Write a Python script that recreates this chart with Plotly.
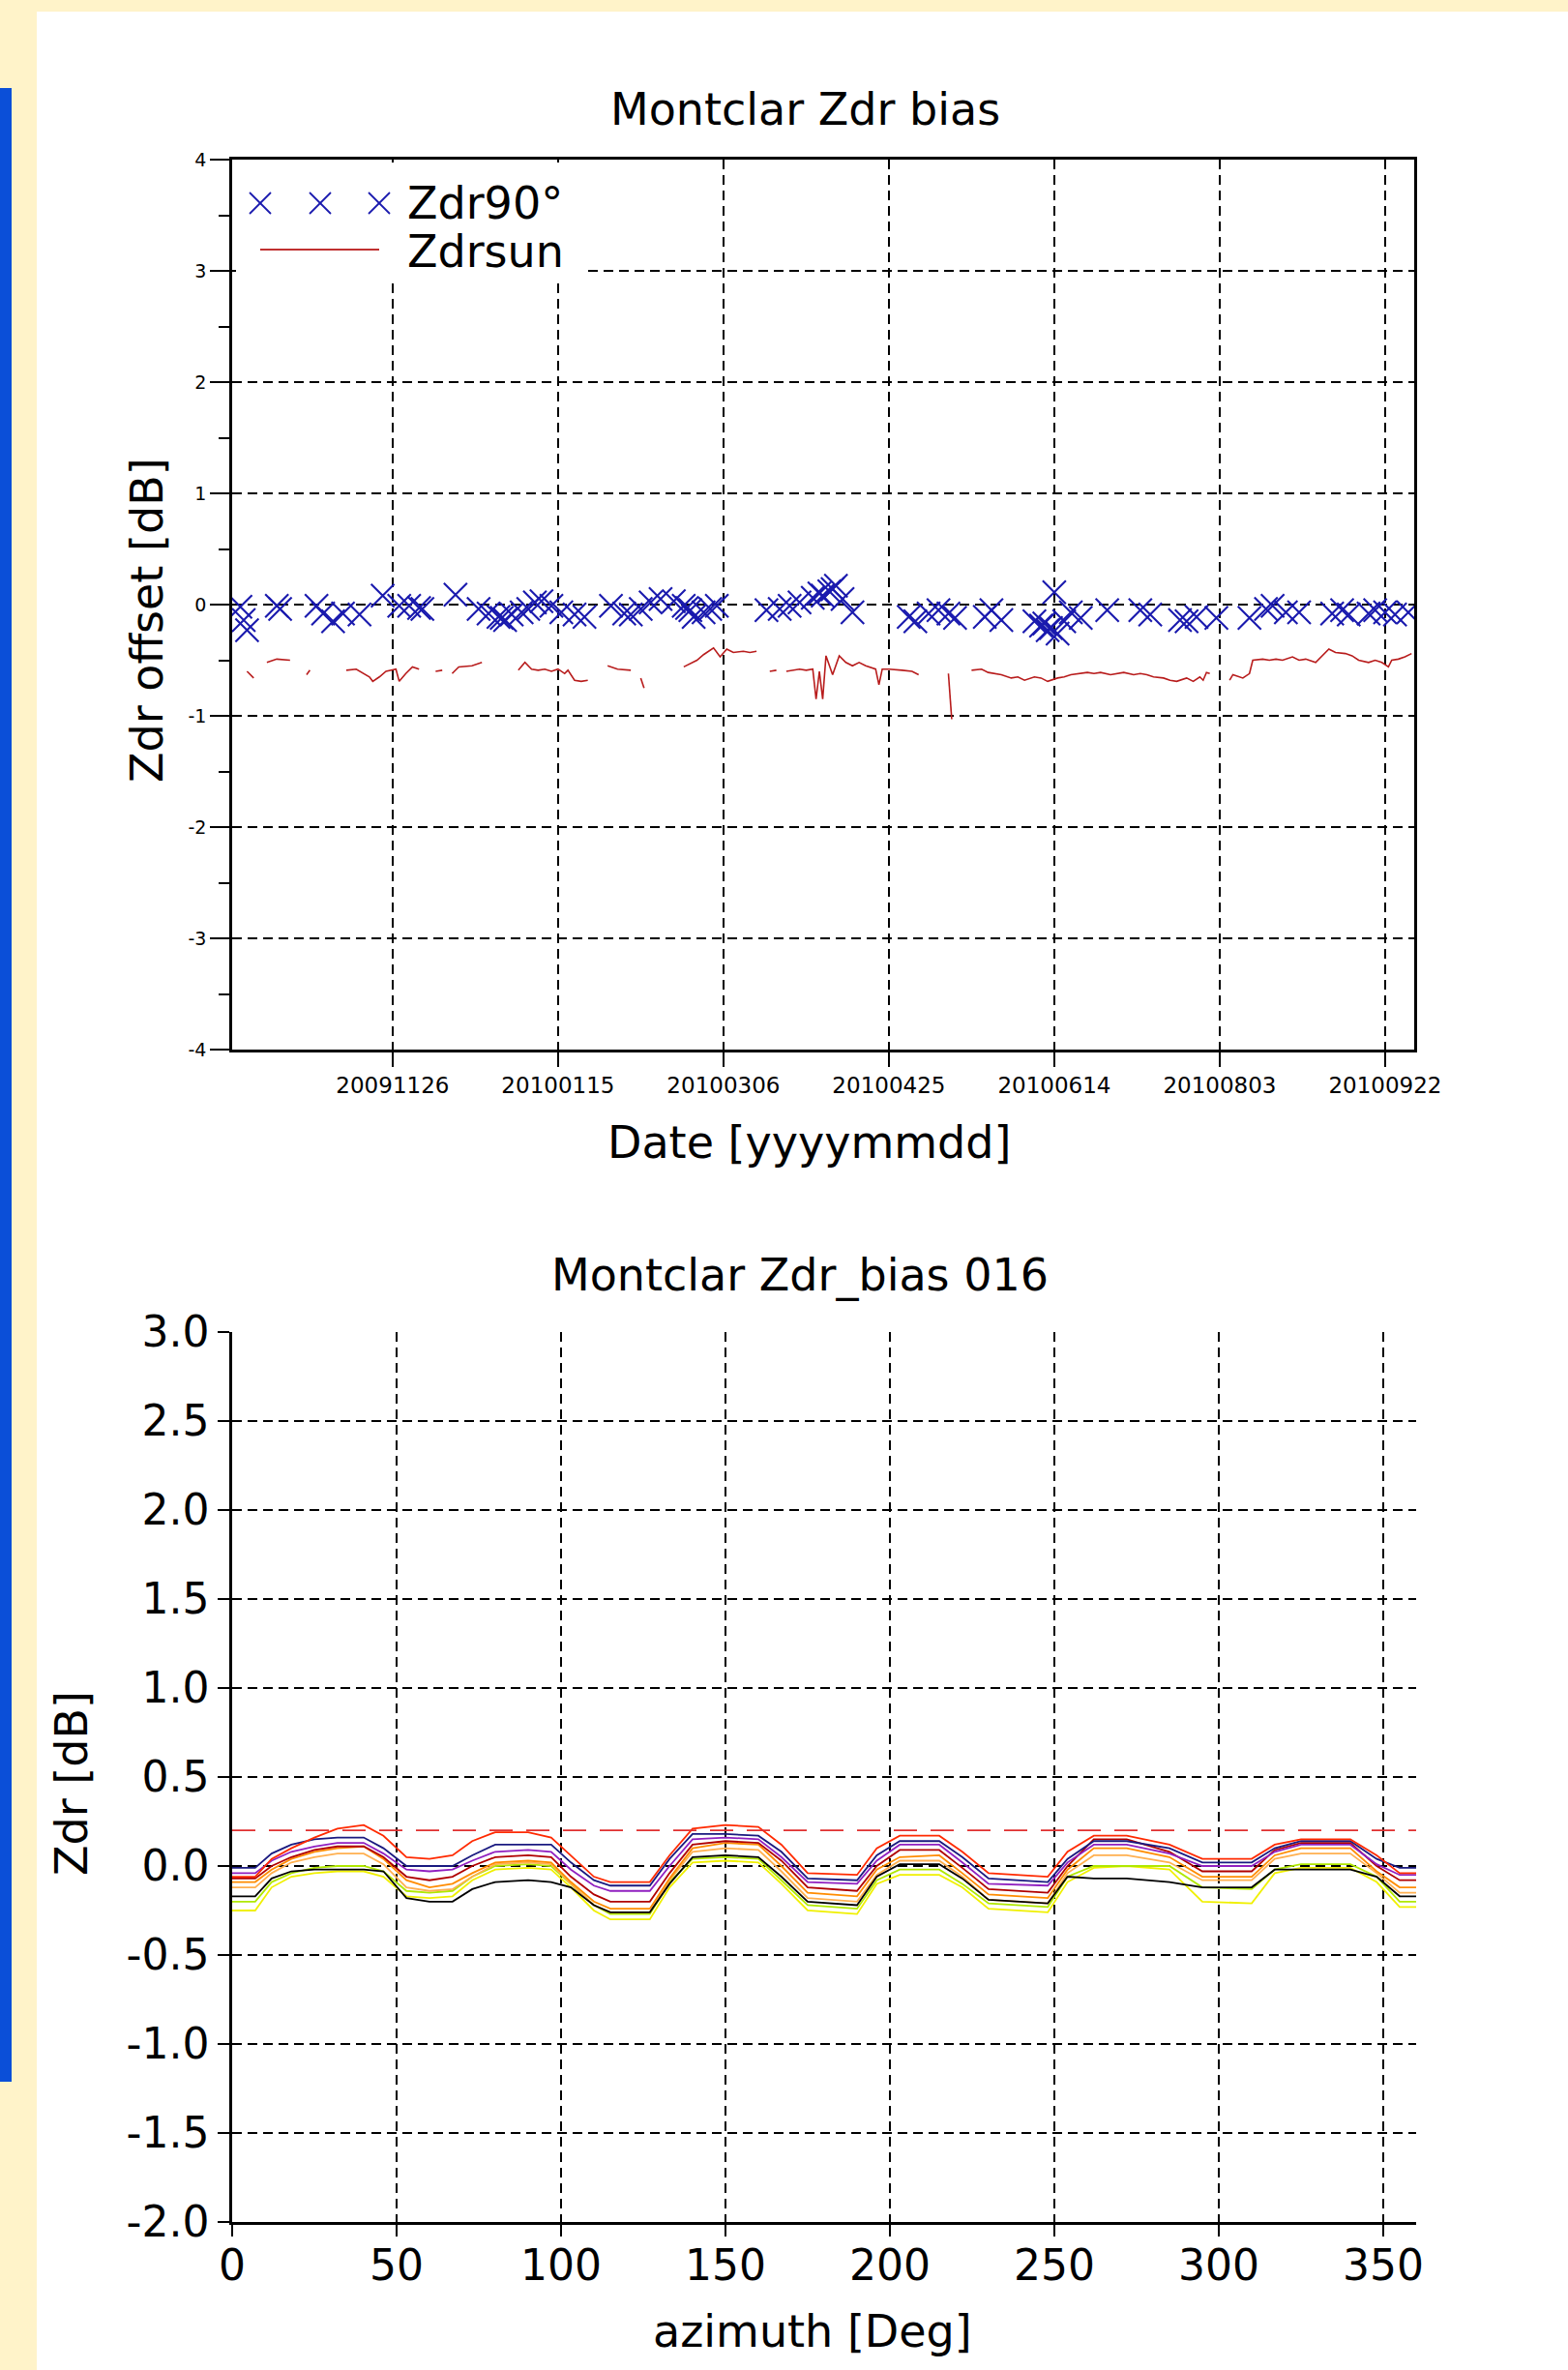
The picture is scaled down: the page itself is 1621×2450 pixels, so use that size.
import plotly.graph_objects as go

# ---------------- top chart data ----------------
zdr90_dates = [
    "2009-10-11", "2009-10-12", "2009-10-13",
    "2009-10-22", "2009-10-23",
    "2009-11-03", "2009-11-05", "2009-11-08", "2009-11-11", "2009-11-16",
    "2009-11-23",
    "2009-11-28", "2009-12-01", "2009-12-04", "2009-12-05",
    "2009-12-15",
    "2009-12-22", "2009-12-25", "2009-12-28", "2009-12-29", "2009-12-30", "2010-01-01", "2010-01-04", "2010-01-06", "2010-01-08", "2010-01-10",
    "2010-01-13", "2010-01-16", "2010-01-20", "2010-01-23",
    "2010-01-31", "2010-02-04", "2010-02-06", "2010-02-09", "2010-02-12",
    "2010-02-15", "2010-02-19", "2010-02-22", "2010-02-23", "2010-02-24", "2010-02-25", "2010-02-28", "2010-03-02", "2010-03-04",
    "2010-03-19", "2010-03-23", "2010-03-26", "2010-03-29", "2010-04-02", "2010-04-04",
    "2010-04-05", "2010-04-07", "2010-04-08", "2010-04-09", "2010-04-11", "2010-04-14",
    "2010-05-01", "2010-05-03", "2010-05-07", "2010-05-10", "2010-05-13", "2010-05-15",
    "2010-05-24", "2010-05-26", "2010-05-29",
    "2010-06-08", "2010-06-10", "2010-06-11", "2010-06-12", "2010-06-13", "2010-06-14", "2010-06-15", "2010-06-17", "2010-06-19", "2010-06-22",
    "2010-06-30",
    "2010-07-10", "2010-07-13", "2010-07-22", "2010-07-24", "2010-07-27", "2010-08-02",
    "2010-08-12", "2010-08-17", "2010-08-19", "2010-08-23", "2010-08-27",
    "2010-09-06", "2010-09-09", "2010-09-11", "2010-09-17", "2010-09-19", "2010-09-22", "2010-09-25", "2010-09-29",
]
zdr90_vals = [
    -0.02, -0.14, -0.23,
    -0.01, -0.04,
    -0.01, -0.08, -0.15, -0.08, -0.09,
    0.08,
    -0.01, -0.01, -0.03, -0.04,
    0.09,
    -0.04, -0.08, -0.11, -0.12, -0.14, -0.09, -0.07, -0.04, 0.02, 0.03,
    -0.01, -0.07, -0.09, -0.11,
    -0.01, -0.08, -0.09, -0.04, 0.02,
    0.05, 0.03, -0.01, -0.03, -0.05, -0.11, -0.07, -0.04, -0.01,
    -0.05, -0.04, -0.01, 0.02, 0.06, 0.10,
    0.08, 0.12, 0.14, 0.17, 0.05, -0.07,
    -0.11, -0.15, -0.08, -0.05, -0.08, -0.12,
    -0.11, -0.05, -0.14,
    -0.15, -0.19, -0.17, -0.23, -0.21, 0.11, -0.26, -0.15, -0.07, -0.12,
    -0.05,
    -0.05, -0.09, -0.14, -0.15, -0.11, -0.12,
    -0.12, -0.04, -0.01, -0.07, -0.07,
    -0.08, -0.05, -0.09, -0.08, -0.05, -0.07, -0.09, -0.07,
]

# Zdrsun values; None marks a gap in the record
zdrsun_dates = [
    "2009-10-13", "2009-10-15", "2009-10-17",
    "2009-10-19", "2009-10-22", "2009-10-26", "2009-10-28",
    "2009-10-31", "2009-11-01", "2009-11-06",
    "2009-11-12", "2009-11-15", "2009-11-19", "2009-11-20", "2009-11-22", "2009-11-24", "2009-11-27",
    "2009-11-28", "2009-11-30", "2009-12-02", "2009-12-04", "2009-12-06",
    "2009-12-09", "2009-12-11", "2009-12-12",
    "2009-12-14", "2009-12-16", "2009-12-20", "2009-12-23", "2009-12-28",
    "2010-01-03", "2010-01-05", "2010-01-07", "2010-01-09", "2010-01-11", "2010-01-13", "2010-01-15",
    "2010-01-17", "2010-01-18", "2010-01-20", "2010-01-22", "2010-01-24", "2010-01-27",
    "2010-01-30", "2010-02-02", "2010-02-06", "2010-02-07",
    "2010-02-09", "2010-02-10", "2010-02-15",
    "2010-02-22", "2010-02-24", "2010-02-26", "2010-02-28", "2010-03-03", "2010-03-05", "2010-03-07",
    "2010-03-09", "2010-03-12", "2010-03-14", "2010-03-16", "2010-03-18",
    "2010-03-20", "2010-03-22", "2010-03-23",
    "2010-03-25", "2010-03-29", "2010-03-31", "2010-04-02", "2010-04-03", "2010-04-04", "2010-04-05",
    "2010-04-06", "2010-04-08", "2010-04-10", "2010-04-12", "2010-04-14", "2010-04-16", "2010-04-18",
    "2010-04-21", "2010-04-22", "2010-04-23", "2010-04-25", "2010-04-29", "2010-05-02", "2010-05-04", "2010-05-08",
    "2010-05-13", "2010-05-14", "2010-05-17",
    "2010-05-20", "2010-05-23", "2010-05-25", "2010-05-27", "2010-05-29", "2010-06-01", "2010-06-03",
    "2010-06-05", "2010-06-08", "2010-06-10", "2010-06-12", "2010-06-15", "2010-06-17", "2010-06-19",
    "2010-06-22", "2010-06-24", "2010-06-26", "2010-06-28", "2010-07-01", "2010-07-03", "2010-07-05",
    "2010-07-08", "2010-07-10", "2010-07-12", "2010-07-14", "2010-07-17", "2010-07-19", "2010-07-21",
    "2010-07-24", "2010-07-26", "2010-07-28", "2010-07-29", "2010-07-30", "2010-07-31", "2010-08-03",
    "2010-08-06", "2010-08-07", "2010-08-10", "2010-08-12", "2010-08-13", "2010-08-16", "2010-08-18",
    "2010-08-20", "2010-08-22", "2010-08-25", "2010-08-27", "2010-08-29", "2010-09-01", "2010-09-03",
    "2010-09-05", "2010-09-07", "2010-09-10", "2010-09-12", "2010-09-14", "2010-09-17", "2010-09-19",
    "2010-09-21", "2010-09-23", "2010-09-24", "2010-09-26", "2010-09-28", "2010-09-30",
]
zdrsun_vals = [
    -0.60, -0.66, None,
    -0.52, -0.49, -0.50, None,
    -0.63, -0.59, None,
    -0.59, -0.58, -0.65, -0.69, -0.65, -0.60, -0.58,
    -0.69, -0.62, -0.56, -0.58, None,
    -0.60, -0.59, None,
    -0.62, -0.56, -0.55, -0.52, None,
    -0.59, -0.52, -0.58, -0.59, -0.58, -0.60, -0.58,
    -0.62, -0.59, -0.68, -0.69, -0.68, None,
    -0.55, -0.58, -0.59, None,
    -0.66, -0.75, None,
    -0.56, -0.53, -0.50, -0.45, -0.39, -0.47, -0.40,
    -0.43, -0.42, -0.43, -0.42, None,
    -0.60, -0.59, None,
    -0.60, -0.58, -0.59, -0.58, -0.85, -0.60, -0.85,
    -0.46, -0.63, -0.46, -0.52, -0.55, -0.52, -0.55,
    -0.58, -0.72, -0.58, -0.58, -0.59, -0.60, -0.63, None,
    -0.62, -1.03, None,
    -0.59, -0.58, -0.61, -0.62, -0.63, -0.66, -0.65,
    -0.68, -0.65, -0.66, -0.69, -0.66, -0.65, -0.63,
    -0.62, -0.61, -0.62, -0.61, -0.63, -0.62, -0.61,
    -0.63, -0.62, -0.63, -0.65, -0.66, -0.68, -0.69,
    -0.66, -0.69, -0.65, -0.68, -0.61, -0.62, None,
    -0.68, -0.63, -0.66, -0.62, -0.50, -0.49, -0.50,
    -0.49, -0.50, -0.47, -0.50, -0.49, -0.52, -0.46,
    -0.40, -0.43, -0.44, -0.46, -0.50, -0.52, -0.50,
    -0.52, -0.56, -0.50, -0.49, -0.47, -0.44,
]

date_tickvals = ["2009-11-26", "2010-01-15", "2010-03-06", "2010-04-25",
                 "2010-06-14", "2010-08-03", "2010-09-22"]
date_ticktext = ["20091126", "20100115", "20100306", "20100425",
                 "20100614", "20100803", "20100922"]
offset_tickvals = [-4, -3, -2, -1, 0, 1, 2, 3, 4]
offset_ticktext = ["-4", "-3", "-2", "-1", "0", "1", "2", "3", "4"]

# ---------------- bottom chart data ----------------
azimuth = [0, 7, 12, 18, 25, 32, 40, 46, 53, 60, 67, 73, 80, 90, 97, 103, 110, 115, 127, 133,
           140, 150, 160, 167, 175, 190, 196, 203, 215, 222, 230, 248, 254, 262, 272, 285, 295,
           310, 317, 325, 340, 348, 355, 360]

zdr_red = [-0.06, -0.06, 0.04, 0.10, 0.16, 0.21, 0.23, 0.17, 0.05, 0.04, 0.06, 0.14, 0.19, 0.19,
           0.16, 0.06, -0.06, -0.09, -0.09, 0.06, 0.21, 0.23, 0.22, 0.12, -0.04, -0.05, 0.10, 0.17,
           0.17, 0.08, -0.04, -0.06, 0.08, 0.17, 0.17, 0.12, 0.04, 0.04, 0.12, 0.15, 0.15, 0.06,
           -0.04, -0.04]
zdr_navy = [-0.01, -0.01, 0.07, 0.12, 0.15, 0.16, 0.16, 0.10, 0.00, 0.00, 0.00, 0.06, 0.12, 0.12,
            0.12, 0.02, -0.08, -0.11, -0.11, 0.04, 0.18, 0.18, 0.17, 0.08, -0.07, -0.08, 0.06, 0.14,
            0.14, 0.05, -0.07, -0.09, 0.04, 0.14, 0.14, 0.10, 0.02, 0.02, 0.10, 0.14, 0.14, 0.04,
            -0.01, -0.01]
zdr_purple = [-0.04, -0.04, 0.03, 0.08, 0.11, 0.13, 0.13, 0.07, -0.02, -0.03, -0.02, 0.03, 0.08,
              0.09, 0.08, -0.02, -0.11, -0.14, -0.14, 0.00, 0.15, 0.16, 0.15, 0.05, -0.09, -0.10,
              0.03, 0.12, 0.12, 0.02, -0.10, -0.11, 0.02, 0.12, 0.12, 0.07, 0.00, 0.00, 0.08, 0.12,
              0.12, 0.01, -0.05, -0.05]
zdr_darkred = [-0.07, -0.07, 0.00, 0.05, 0.09, 0.11, 0.11, 0.05, -0.06, -0.08, -0.06, 0.00, 0.05,
               0.06, 0.05, -0.06, -0.16, -0.20, -0.20, -0.04, 0.12, 0.14, 0.13, 0.03, -0.12, -0.14,
               0.00, 0.09, 0.09, -0.01, -0.13, -0.15, 0.00, 0.15, 0.15, 0.08, -0.03, -0.03, 0.09,
               0.13, 0.13, 0.00, -0.08, -0.08]
zdr_orange = [-0.09, -0.09, -0.02, 0.04, 0.08, 0.10, 0.11, 0.04, -0.08, -0.12, -0.10, -0.04, 0.02,
              0.03, 0.02, -0.09, -0.20, -0.24, -0.24, -0.07, 0.10, 0.13, 0.12, 0.00, -0.15, -0.17,
              -0.02, 0.05, 0.06, -0.04, -0.16, -0.18, -0.02, 0.10, 0.10, 0.05, -0.06, -0.06, 0.06,
              0.10, 0.10, -0.03, -0.12, -0.12]
zdr_black = [-0.17, -0.17, -0.07, -0.03, -0.02, -0.02, -0.02, -0.03, -0.18, -0.20, -0.20, -0.13,
             -0.09, -0.08, -0.09, -0.12, -0.22, -0.26, -0.26, -0.10, 0.05, 0.06, 0.05, -0.06, -0.20,
             -0.22, -0.06, 0.01, 0.01, -0.07, -0.19, -0.21, -0.06, -0.07, -0.07, -0.09, -0.12,
             -0.12, -0.02, -0.02, -0.02, -0.06, -0.17, -0.17]
zdr_yellow = [-0.25, -0.25, -0.12, -0.06, -0.04, -0.03, -0.03, -0.06, -0.17, -0.18, -0.17, -0.08,
              -0.02, -0.01, -0.02, -0.12, -0.25, -0.30, -0.30, -0.12, 0.02, 0.03, 0.02, -0.10,
              -0.25, -0.27, -0.10, -0.05, -0.05, -0.12, -0.24, -0.26, -0.09, -0.01, 0.00, -0.02,
              -0.20, -0.21, -0.04, -0.01, -0.01, -0.09, -0.23, -0.23]
zdr_lime = [-0.20, -0.20, -0.09, -0.04, -0.01, 0.00, 0.00, -0.03, -0.14, -0.15, -0.14, -0.06, 0.00,
            0.01, 0.00, -0.10, -0.22, -0.27, -0.27, -0.09, 0.04, 0.05, 0.04, -0.08, -0.22, -0.24,
            -0.08, -0.02, -0.02, -0.10, -0.21, -0.23, -0.06, 0.00, 0.00, 0.00, -0.12, -0.13, -0.02,
            0.01, 0.01, -0.06, -0.20, -0.20]
zdr_lightorange = [-0.12, -0.12, -0.04, 0.02, 0.05, 0.07, 0.07, 0.01, -0.12, -0.14, -0.13, -0.06,
                   0.01, 0.02, 0.01, -0.10, -0.22, -0.26, -0.26, -0.08, 0.08, 0.10, 0.09, -0.03,
                   -0.18, -0.20, -0.05, 0.03, 0.03, -0.06, -0.19, -0.21, -0.04, 0.06, 0.06, 0.02,
                   -0.08, -0.08, 0.04, 0.07, 0.07, -0.04, -0.15, -0.15]

zdr_threshold = 0.2
az_tickvals = [0, 50, 100, 150, 200, 250, 300, 350]
zdr_tickvals = [-2.0, -1.5, -1.0, -0.5, 0.0, 0.5, 1.0, 1.5, 2.0, 2.5, 3.0]
zdr_ticktext = ["-2.0", "-1.5", "-1.0", "-0.5", "0.0", "0.5", "1.0", "1.5", "2.0", "2.5", "3.0"]

# ---------------- figure ----------------
W, H = 1621, 2450
FONT = "DejaVu Sans"
XCOL = "#1a1aae"


def px(x):
    return x / W


def py(y):
    return 1 - y / H


fig = go.Figure()

fig.add_trace(go.Scatter(
    x=zdrsun_dates, y=zdrsun_vals, mode="lines", name="Zdrsun",
    line=dict(color="#B81C1C", width=1.6), connectgaps=False,
    xaxis="x", yaxis="y"))
fig.add_trace(go.Scatter(
    x=zdr90_dates, y=zdr90_vals, mode="markers", name="Zdr90°",
    marker=dict(symbol="x-thin", size=24, color=XCOL,
                line=dict(color=XCOL, width=2.1)),
    xaxis="x", yaxis="y"))

profiles = [
    (zdr_yellow, "#F0F000"),
    (zdr_lime, "#B0E800"),
    (zdr_lightorange, "#FFB050"),
    (zdr_orange, "#FF8C00"),
    (zdr_black, "#000000"),
    (zdr_darkred, "#B00000"),
    (zdr_purple, "#9020C0"),
    (zdr_navy, "#1A1A80"),
    (zdr_red, "#FF2A00"),
]
for vals, col in profiles:
    fig.add_trace(go.Scatter(
        x=azimuth, y=vals, mode="lines", line=dict(color=col, width=1.8),
        xaxis="x2", yaxis="y2"))

fig.add_trace(go.Scatter(
    x=[azimuth[0], azimuth[-1]], y=[zdr_threshold, zdr_threshold], mode="lines",
    line=dict(color="#E03030", width=1.8, dash="24px,14px"),
    xaxis="x2", yaxis="y2"))

grid = dict(showgrid=True, gridcolor="black", gridwidth=1.5, griddash="10px,6px")
axline = dict(showline=True, linecolor="black", linewidth=2.5, zeroline=False,
              ticks="outside", tickcolor="black", tickwidth=2, automargin=False)

fig.update_layout(
    template="none",
    width=W, height=H, autosize=False,
    margin=dict(l=0, r=0, t=0, b=0, pad=0, autoexpand=False),
    paper_bgcolor="#FFF3C9",
    plot_bgcolor="white",
    showlegend=False,
    font=dict(family=FONT, color="black"),
    xaxis=dict(domain=[px(240), px(1462)], anchor="y", type="date",
               range=["2009-10-08 12:00", "2010-09-30 19:00"],
               tickmode="array", tickvals=date_tickvals, ticktext=date_ticktext,
               ticklen=15, mirror=True, tickfont=dict(size=23, family=FONT),
               **grid, **axline),
    yaxis=dict(domain=[py(1085), py(165)], anchor="x", range=[-4, 4],
               tickmode="array", tickvals=offset_tickvals, ticktext=offset_ticktext,
               ticklen=20, mirror=True, tickfont=dict(size=19, family=FONT),
               minor=dict(tick0=-4, dtick=0.5, ticklen=11, ticks="outside",
                          tickcolor="black", tickwidth=2, showgrid=False),
               **grid, **axline),
    xaxis2=dict(domain=[px(240), px(1464)], anchor="y2", range=[0, 360],
                tickmode="array", tickvals=az_tickvals,
                ticklen=12, ticklabelstandoff=-8, tickfont=dict(size=44, family=FONT),
                **grid, **axline),
    yaxis2=dict(domain=[py(2297), py(1377)], anchor="x2", range=[-2, 3],
                tickmode="array", tickvals=zdr_tickvals, ticktext=zdr_ticktext,
                ticklen=12, tickfont=dict(size=44, family=FONT),
                **grid, **axline),
)

shapes = [
    dict(type="rect", xref="paper", yref="paper", x0=px(38), x1=1, y0=0, y1=py(12),
         fillcolor="white", line=dict(width=0), layer="below"),
    dict(type="rect", xref="paper", yref="paper", x0=0, x1=px(12), y0=py(2152), y1=py(91),
         fillcolor="#0B4FD8", line=dict(width=0), layer="below"),
    # legend box
    dict(type="rect", xref="paper", yref="paper", x0=px(244), x1=px(606), y0=py(292), y1=py(168),
         fillcolor="white", line=dict(width=0), layer="above"),
    dict(type="line", xref="paper", yref="paper", x0=px(269), x1=px(392), y0=py(258), y1=py(258),
         line=dict(color="#C03030", width=2)),
]
for cx in (269, 331, 392):
    for d in (1, -1):
        shapes.append(dict(type="line", xref="paper", yref="paper",
                           x0=px(cx - 11), x1=px(cx + 11), y0=py(210 - 11 * d), y1=py(210 + 11 * d),
                           line=dict(color=XCOL, width=1.8)))
fig.update_layout(shapes=shapes)

ann = []


def add_text(text, x, y, size=46, angle=0, xanchor="center"):
    ann.append(dict(text=text, xref="paper", yref="paper", x=px(x), y=py(y),
                    xanchor=xanchor, yanchor="middle", showarrow=False, textangle=angle,
                    font=dict(size=size, family=FONT, color="black")))


add_text("Montclar Zdr bias", 832, 113)
add_text("Date [yyyymmdd]", 836, 1181)
add_text("Zdr offset [dB]", 152, 641, angle=-90)
add_text("Zdr90°", 419, 210, xanchor="left")
add_text("Zdrsun", 419, 260, xanchor="left")
add_text("Montclar Zdr_bias 016", 827, 1318)
add_text("azimuth [Deg]", 840, 2410)
add_text("Zdr [dB]", 74, 1844, angle=-90)
fig.update_layout(annotations=ann)

fig.write_html(
    "out.html",
    config={"displayModeBar": False},
    post_script="document.body.style.margin='0';document.body.style.overflow='hidden';"
                "document.documentElement.style.overflow='hidden';",
)
